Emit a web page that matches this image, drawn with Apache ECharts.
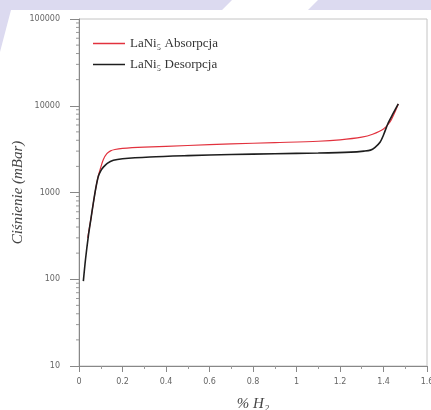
<!DOCTYPE html>
<html><head><meta charset="utf-8">
<script src="https://cdn.jsdelivr.net/npm/echarts@6/dist/echarts.min.js"></script>
<style>html,body{margin:0;padding:0;background:#fff}#c{width:431px;height:410px}</style>
</head><body><div id="c"></div>
<script>
// Data
const absX = [0.04, 0.055, 0.066, 0.078, 0.089, 0.1, 0.112, 0.128, 0.145, 0.165, 0.2, 0.3, 0.5, 0.7, 0.9, 1.1, 1.2, 1.3, 1.35, 1.4, 1.43, 1.45, 1.468];
const absY = [300, 500, 760, 1150, 1560, 1950, 2400, 2800, 3020, 3130, 3220, 3330, 3480, 3630, 3760, 3900, 4050, 4350, 4700, 5400, 6500, 8200, 10500];
const desX = [0.02, 0.03, 0.043, 0.055, 0.066, 0.078, 0.089, 0.1, 0.112, 0.13, 0.158, 0.2, 0.326, 0.5, 0.7, 0.9, 1.1, 1.25, 1.31, 1.34, 1.36, 1.384, 1.4, 1.42, 1.445, 1.468];
const desY = [95, 170, 315, 500, 760, 1150, 1540, 1780, 1960, 2170, 2350, 2450, 2570, 2660, 2740, 2800, 2850, 2920, 3000, 3080, 3300, 3800, 4600, 6200, 8200, 10500];
const seriesNames = ['LaNi\u2085 Absorpcja', 'LaNi\u2085 Desorpcja'];
const xTitle = '% H\u2082';
const yTitle = 'Ciśnienie (mBar)';
// minor tick values of the logarithmic pressure axis
const yMinorTicks = [20, 30, 40, 50, 60, 70, 80, 90,
  200, 300, 400, 500, 600, 700, 800, 900,
  2000, 3000, 4000, 5000, 6000, 7000, 8000, 9000,
  20000, 30000, 40000, 50000, 60000, 70000, 80000, 90000];

const pair = (xs, ys) => xs.map((x, i) => [x, ys[i]]);
const chart = echarts.init(document.getElementById('c'), null, {renderer: 'canvas'});
const lav = '#dcdaf0';
chart.setOption({
  animation: false,
  backgroundColor: '#fff',
  graphic: [
    {type: 'polygon', z: -10, shape: {points: [[0,0],[232,0],[222,10],[11,10],[0,52]]}, style: {fill: lav}},
    {type: 'polygon', z: -10, shape: {points: [[318,0],[431,0],[431,10],[308,10]]}, style: {fill: lav}}
  ],
  grid: {left: 79, top: 19, right: 4, bottom: 44, outerBoundsMode: 'none', containLabel: false,
    show: true, borderColor: '#c4c4c4', borderWidth: 1, backgroundColor: 'transparent'},
  legend: {
    data: seriesNames, orient: 'vertical', left: 93, top: 36, padding: 0,
    icon: 'rect', itemWidth: 32, itemHeight: 1.5, itemGap: 6,
    textStyle: {fontFamily: 'Liberation Serif, DejaVu Serif, serif', fontSize: 13, color: '#333', lineHeight: 15}
  },
  xAxis: {
    type: 'value', min: 0, max: 1.6, interval: 0.2,
    name: xTitle, nameLocation: 'middle', nameGap: 31, nameMoveOverlap: false,
    nameTextStyle: {fontFamily: 'Liberation Serif, serif', fontStyle: 'italic', fontSize: 15, color: '#444'},
    axisLine: {lineStyle: {color: '#888', width: 1}},
    axisTick: {show: true, inside: false, length: 6, lineStyle: {color: '#888'}},
    minorTick: {show: true, splitNumber: 2, length: 3, lineStyle: {color: '#999'}},
    axisLabel: {margin: 12, fontSize: 8, color: '#666', fontFamily: 'DejaVu Sans, sans-serif'},
    splitLine: {show: false}
  },
  yAxis: {
    type: 'log', logBase: 10, min: 10, max: 100000,
    name: yTitle, nameLocation: 'middle', nameGap: 53, nameRotate: 90, nameMoveOverlap: false,
    nameTextStyle: {fontFamily: 'Liberation Serif, serif', fontStyle: 'italic', fontSize: 15, color: '#444'},
    axisLine: {show: true, lineStyle: {color: '#888', width: 1}},
    axisTick: {show: true, inside: false, length: 9, lineStyle: {color: '#888'}},
    minorTick: {show: false},
    axisLabel: {margin: 19, fontSize: 8, color: '#666', fontFamily: 'DejaVu Sans, sans-serif',
      formatter: v => String(Math.round(v))},
    splitLine: {show: false}
  },
  series: [
    {type: 'custom', silent: true, z: 1, clip: false,
     data: yMinorTicks.map(v => [0, v]),
     renderItem: (params, api) => {
       const p = api.coord([0, api.value(1)]);
       return {type: 'line', shape: {x1: p[0] - 3, y1: p[1], x2: p[0], y2: p[1]},
         style: {stroke: '#999', lineWidth: 1}};
     }},
    {name: seriesNames[0], type: 'line', data: pair(absX, absY), symbol: 'none', smooth: 0.3,
     lineStyle: {color: '#e2323e', width: 1.2}, itemStyle: {color: '#e2323e'}, z: 2},
    {name: seriesNames[1], type: 'line', data: pair(desX, desY), symbol: 'none', smooth: 0.3,
     lineStyle: {color: '#1e1e1e', width: 1.6}, itemStyle: {color: '#1e1e1e'}, z: 3}
  ]
});
</script></body></html>
